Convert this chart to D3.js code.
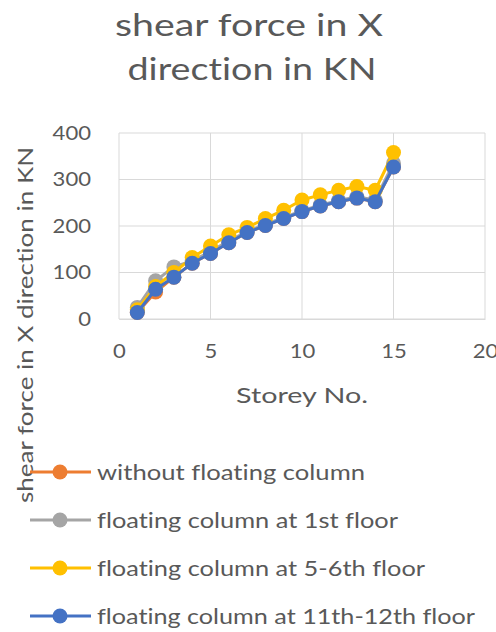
<!DOCTYPE html>
<html>
<head>
<meta charset="utf-8">
<script src="https://cdn.jsdelivr.net/npm/d3@7"></script>
<style>
  html, body { margin: 0; padding: 0; background: #fff; }
  svg { display: block; }
  text { font-family: Lato, "Open Sans", sans-serif; fill: #595959;
         font-variant-ligatures: none; font-feature-settings: "liga" 0, "clig" 0; }
</style>
</head>
<body>
<svg id="chart" width="496" height="632"></svg>
<script>
// Storey numbers (x values)
const storeys = [1, 2, 3, 4, 5, 6, 7, 8, 9, 10, 11, 12, 13, 14, 15];

// Shear force in X direction (kN) per storey for each case
const withoutFloating = [14, 58, 90, 120, 141, 164, 186, 201, 216, 231, 243, 252, 260, 252, 327];
const floating1st     = [25, 82, 112, 125, 145, 168, 188, 204, 218, 233, 245, 255, 263, 256, 335];
const floating5to6    = [20, 70, 100, 132, 157, 181, 197, 216, 234, 256, 267, 277, 285, 277, 358];
const floating11to12  = [14, 64, 90, 120, 141, 164, 186, 201, 216, 231, 243, 252, 260, 252, 327];

const seriesNames  = ["without floating column", "floating column at 1st floor",
                      "floating column at 5-6th floor", "floating column at 11th-12th floor"];
const seriesColors = ["#ED7D31", "#A5A5A5", "#FFC000", "#4472C4"];
const seriesValues = [withoutFloating, floating1st, floating5to6, floating11to12];

const xTicks = [0, 5, 10, 15, 20];
const yTicks = [0, 100, 200, 300, 400];

const svg = d3.select("#chart");

const plot = { left: 119, right: 485, top: 133, bottom: 319 };
const x = d3.scaleLinear().domain([0, 20]).range([plot.left, plot.right]);
const y = d3.scaleLinear().domain([0, 400]).range([plot.bottom, plot.top]);

// Text with a fixed rendered width (wide, Calibri-like proportions)
function wideText(sel, width) {
  return sel.attr("textLength", width).attr("lengthAdjust", "spacingAndGlyphs");
}

// Title
wideText(svg.append("text").attr("x", 249).attr("y", 36).attr("text-anchor", "middle")
  .style("font-size", "30px").text("shear force in X"), 268);
wideText(svg.append("text").attr("x", 252).attr("y", 80).attr("text-anchor", "middle")
  .style("font-size", "30px").text("direction in KN"), 249);

// Gridlines
const grid = svg.append("g");
grid.selectAll("line.h").data(yTicks).join("line")
  .attr("x1", plot.left).attr("x2", plot.right)
  .attr("y1", d => y(d)).attr("y2", d => y(d))
  .attr("stroke", "#d9d9d9").attr("stroke-width", 1);
grid.selectAll("line.v").data(xTicks).join("line")
  .attr("y1", plot.top).attr("y2", plot.bottom)
  .attr("x1", d => x(d)).attr("x2", d => x(d))
  .attr("stroke", "#d9d9d9").attr("stroke-width", 1);

// Axes
const xAxis = svg.append("g").attr("transform", `translate(0,${plot.bottom})`)
  .call(d3.axisBottom(x).tickValues(xTicks).tickSize(0).tickPadding(26));
const yAxis = svg.append("g").attr("transform", `translate(${plot.left},0)`)
  .call(d3.axisLeft(y).tickValues(yTicks).tickSize(0).tickPadding(28));
[xAxis, yAxis].forEach(a => {
  a.select(".domain").attr("stroke", "#d9d9d9");
  a.selectAll("text").style("font-size", "19px").attr("fill", "#595959")
    .style("font-family", "Lato, 'Open Sans', sans-serif")
    .attr("textLength", function () { return 12.8 * this.textContent.length; })
    .attr("lengthAdjust", "spacingAndGlyphs");
});
yAxis.select(".domain").remove();

// Axis titles
wideText(svg.append("text").attr("x", x(10)).attr("y", 403).attr("text-anchor", "middle")
  .style("font-size", "22px").text("Storey No."), 132);
wideText(svg.append("text").attr("transform", "translate(33,325) rotate(-90)")
  .attr("text-anchor", "middle").style("font-size", "22px")
  .text("shear force in X direction in KN"), 356);

// Series lines and markers
const line = d3.line().x((d, i) => x(storeys[i])).y(d => y(d));
seriesValues.forEach((vals, si) => {
  const g = svg.append("g");
  g.append("path").datum(vals).attr("d", line)
    .attr("fill", "none").attr("stroke", seriesColors[si]).attr("stroke-width", 3);
  g.selectAll("circle").data(vals).join("circle")
    .attr("cx", (d, i) => x(storeys[i])).attr("cy", d => y(d))
    .attr("r", 7.5).attr("fill", seriesColors[si]);
});

// Legend
const legendY = [472, 520, 568, 616];
const legendW = [268, 301, 328, 378];
const legend = svg.append("g");
seriesNames.forEach((name, i) => {
  const g = legend.append("g").attr("transform", `translate(0,${legendY[i]})`);
  g.append("line").attr("x1", 30).attr("x2", 91).attr("y1", 0).attr("y2", 0)
    .attr("stroke", seriesColors[i]).attr("stroke-width", 3);
  g.append("circle").attr("cx", 60).attr("cy", 0).attr("r", 7.5).attr("fill", seriesColors[i]);
  wideText(g.append("text").attr("x", 97).attr("y", 8)
    .style("font-size", "21px").text(name), legendW[i]);
});
</script>
</body>
</html>
